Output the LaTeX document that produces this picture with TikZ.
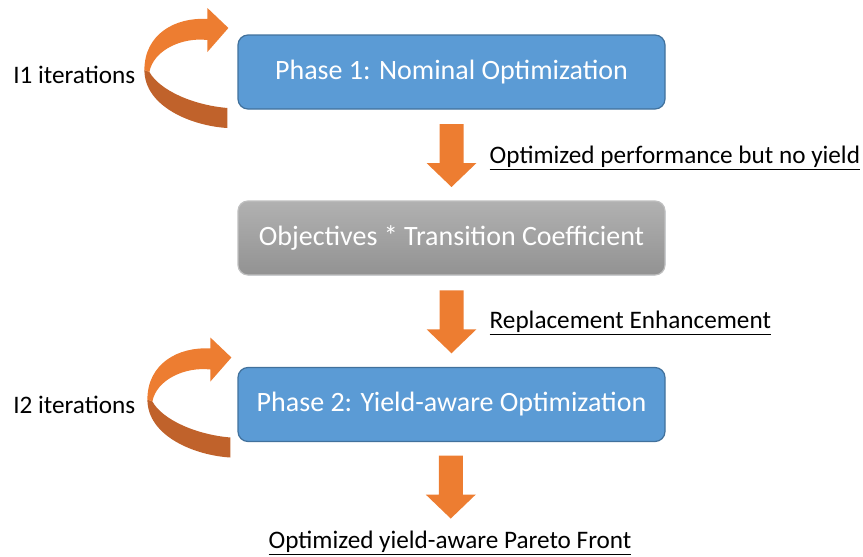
\documentclass[tikz,border=0pt]{standalone}
\usepackage{fontspec}
\setmainfont{Carlito}
\usetikzlibrary{positioning,calc}

\definecolor{phaseblue}{HTML}{5B9BD5}
\definecolor{phaseedge}{HTML}{41719C}
\definecolor{arroworange}{HTML}{ED7D31}
\definecolor{arrowdark}{HTML}{C0622B}
\definecolor{greytop}{HTML}{B1B1B1}
\definecolor{greybot}{HTML}{929292}
\definecolor{greyedge}{HTML}{BFBFBF}

\tikzset{
  phase/.style={draw=phaseedge, line width=1.2pt, fill=phaseblue, rounded corners=10pt,
    minimum width=427pt, minimum height=74pt, text=white, font=\fontsize{28}{33}\selectfont},
  coeff/.style={phase, draw=greyedge, top color=greytop, bottom color=greybot, text=white},
  note/.style={font=\fontsize{25.2}{30}\selectfont, inner sep=0pt},
  % block arrow, centred on its position
  down arrow/.pic={
    \fill[arroworange] (-12,-31) -- (12,-31) -- (12,8) -- (25,8) -- (0,32) -- (-25,8) -- (-12,8) -- cycle;
  },
  % curled arrow, placed at the west side of a phase box
  loop arrow/.pic={
    \fill[arrowdark] (-93,-2) .. controls (-93,35) and (-45,54) .. (-10,56) -- (-10,36)
      .. controls (-45,33) and (-78,18) .. (-88,0) -- cycle;
    \fill[arroworange] (-93,-2) .. controls (-93,-38) and (-62,-55) .. (-30,-53) -- (-30,-64)
      -- (-9,-44) -- (-30,-20) -- (-30,-32) .. controls (-55,-35) and (-84,-22) .. (-88,0) -- cycle;
  }
}

\begin{document}
\begin{tikzpicture}[x=1pt, y=-1pt]
  \useasboundingbox (0,0) rectangle (863,557);

  % the three stages
  \node [phase] (p1) at (451.5,72) {Phase 1: Nominal Optimization};
  \node [coeff] (tc) at (451.5,238) {Objectives * Transition Coefficient};
  \node [phase] (p2) at (451.5,404.5) {Phase 2: Yield-aware Optimization};
  \node [note] (front) at (450,543) {\underline{Optimized yield-aware Pareto Front}};

  % arrows between them
  \pic at ($(p1.south)!0.5!(tc.north)$) {down arrow};
  \pic at ($(tc.south)!0.5!(p2.north)$) {down arrow};
  \pic at ($(p2.south)!0.5!(front.north)$) {down arrow};
  \node [note, anchor=west] (l1) at ($(p1.south)!0.5!(tc.north)+(38,3)$) {\underline{Optimized performance but no yield}};
  \node [note, anchor=west] (l2) at ($(tc.south)!0.5!(p2.north)+(38,2)$) {\underline{Replacement Enhancement}};

  % iterations
  \pic at (p1.west) {loop arrow};
  \pic at ($(p2.west)+(3,-3)$) {loop arrow};
  \node [note, anchor=east] (it1) at ($(p1.west)+(-102,3)$) {I1 iterations};
  \node [note, anchor=east] (it2) at ($(p2.west)+(-102,0)$) {I2 iterations};
\end{tikzpicture}
\end{document}
